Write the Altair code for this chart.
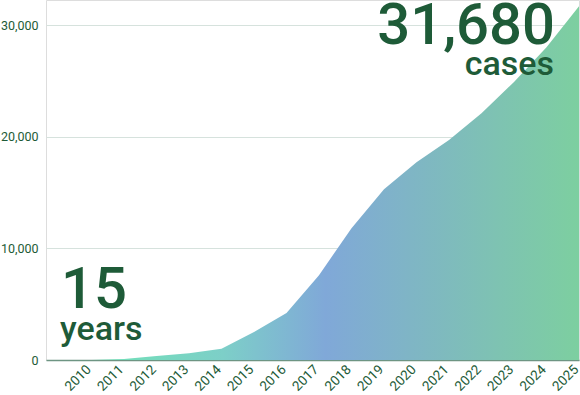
import altair as alt
import pandas as pd

years = [2010, 2011, 2012, 2013, 2014, 2015, 2016, 2017, 2018, 2019, 2020, 2021, 2022, 2023, 2024, 2025]
cases = [0, 100, 350, 600, 1000, 2500, 4200, 7600, 11800, 15300, 17700, 19700, 22100, 24900, 28000, 31680]

total_text = ["31,680"]
total_unit = ["cases"]
span_text = ["15"]
span_unit = ["years"]

df = pd.DataFrame({"year": years, "cases": cases})

DARK = "#1e5b38"
FONT = "Roboto"

x_enc = alt.X("year:Q",
              scale=alt.Scale(domain=[2008.6, 2025], nice=False, zero=False),
              axis=alt.Axis(values=years, format="d", title=None, labelAngle=-45,
                            labelAlign="right", labelBaseline="middle",
                            labelPadding=7, labelOffset=-3, labelFontSize=13.5,
                            labelColor=DARK, labelFont=FONT, ticks=False, grid=False,
                            domain=True, domainColor="#6e9583", domainWidth=1.5,
                            labelOverlap=False, labelFlush=False))
y_enc = alt.Y("cases:Q",
              scale=alt.Scale(domain=[0, 32240], nice=False),
              axis=alt.Axis(values=[0, 10000, 20000, 30000], format=",.0f", title=None,
                            labelFontSize=12.5, labelColor=DARK, labelFont=FONT,
                            labelPadding=8, ticks=False, domain=False,
                            gridColor="#d6e2dd", gridWidth=1))

area = alt.Chart(df).mark_area(
    color=alt.Gradient(
        gradient="linear",
        x1=0, x2=1, y1=0, y2=0,
        stops=[
            alt.GradientStop(offset=0, color="#70e2b6"),
            alt.GradientStop(offset=0.27, color="#7dcfc8"),
            alt.GradientStop(offset=0.48, color="#80a8d8"),
            alt.GradientStop(offset=1, color="#7dcfa0"),
        ],
    ),
    opacity=1,
).encode(x=x_enc, y=y_enc)


def label(txt, size, align, xpx, ypx):
    return alt.Chart(pd.DataFrame({"t": txt})).mark_text(
        font=FONT, fontSize=size, fontWeight=500, color=DARK,
        align=align, baseline="alphabetic"
    ).encode(text="t:N", x=alt.value(xpx), y=alt.value(ypx))


big_total = label(total_text, 58, "right", 509, 44)
big_unit = label(total_unit, 34, "right", 508, 75)
yrs_num = label(span_text, 58, "left", 15, 308)
yrs_unit = label(span_unit, 34, "left", 14, 340)

chart = alt.layer(area, big_total, big_unit, yrs_num, yrs_unit).properties(
    width=533, height=360,
    autosize=alt.AutoSizeParams(type="none"),
    padding={"left": 46, "top": 0, "right": 1, "bottom": 35},
).configure_view(stroke=None).configure(background="white")

chart.save("out.html", embed_options={"renderer": "svg", "actions": False})
